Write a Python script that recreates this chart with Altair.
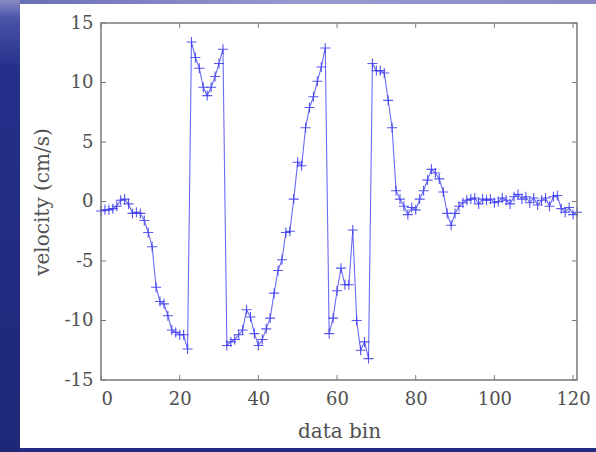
import altair as alt
import pandas as pd

bins = list(range(0, 122))
velocity = [
    -0.8, -0.7, -0.7, -0.6, -0.4, 0.1, 0.2, -0.2, -1.0, -0.9,
    -1.0, -1.6, -2.6, -3.8, -7.2, -8.4, -8.6, -9.6, -10.8, -11.0,
    -11.2, -11.2, -12.4, 13.4, 12.1, 11.2, 9.6, 8.9, 9.6, 10.5,
    11.6, 12.8, -12.1, -11.8, -11.6, -11.2, -10.8, -9.1, -9.7, -11.1,
    -12.1, -11.6, -10.7, -9.8, -7.7, -5.8, -4.9, -2.6, -2.5, 0.2,
    3.3, 3.0, 6.2, 7.9, 8.8, 10.1, 11.3, 12.9, -11.1, -9.8,
    -7.5, -5.6, -7.0, -7.0, -2.4, -10.0, -12.5, -11.8, -13.2, 11.6,
    11.0, 11.0, 10.8, 8.5, 6.2, 0.9, 0.2, -0.4, -1.1, -0.5,
    -0.7, 0.2, 0.9, 1.8, 2.7, 2.4, 1.9, 0.8, -1.0, -2.0,
    -1.0, -0.4, -0.1, 0.1, 0.2, 0.3, -0.2, 0.2, 0.1, 0.2,
    -0.1, 0.0, 0.3, 0.1, -0.2, 0.4, 0.6, 0.2, 0.4, -0.1,
    0.3, -0.3, 0.1, 0.3, -0.4, 0.4, 0.5, -0.6, -0.9, -0.5,
    -1.1, -0.9,
]
x_ticks = [0, 20, 40, 60, 80, 100, 120]
y_ticks = [-15, -10, -5, 0, 5, 10, 15]

W, H = 476, 357
FONT = "DejaVu Serif"
BLUE = "#3a3af0"

df = pd.DataFrame({"bin": bins, "v": velocity})
xt = pd.DataFrame({"t": x_ticks})
yt = pd.DataFrame({"t": y_ticks})
one = pd.DataFrame({"k": [0]})

xs = alt.Scale(domain=[0, 121], nice=False, zero=False)
ys = alt.Scale(domain=[-15, 15], nice=False, zero=False)

left_grad = alt.Gradient(
    gradient="linear",
    stops=[
        alt.GradientStop(color="#8a8ac6", offset=0),
        alt.GradientStop(color="#4a55a8", offset=0.04),
        alt.GradientStop(color="#24308a", offset=0.15),
        alt.GradientStop(color="#1e2878", offset=1),
    ],
    x1=0, x2=0, y1=0, y2=1,
)
top_grad = alt.Gradient(
    gradient="linear",
    stops=[
        alt.GradientStop(color="#6a70b8", offset=0),
        alt.GradientStop(color="#9a9ad0", offset=0.5),
        alt.GradientStop(color="#8a88c4", offset=1),
    ],
    x1=0, x2=1, y1=0, y2=0,
)

strip_left = alt.Chart(one).mark_rect(fill=left_grad).encode(
    x=alt.value(-101), x2=alt.value(-81), y=alt.value(-23), y2=alt.value(429))
strip_top = alt.Chart(one).mark_rect(fill=top_grad).encode(
    x=alt.value(-81), x2=alt.value(495), y=alt.value(-23), y2=alt.value(-19))
strip_bot = alt.Chart(one).mark_rect(fill="#222c84").encode(
    x=alt.value(-81), x2=alt.value(495), y=alt.value(425), y2=alt.value(429))
frame = alt.Chart(one).mark_rect(filled=False, stroke="#7a7a7a", strokeWidth=1.5).encode(
    x=alt.value(0), x2=alt.value(W), y=alt.value(0), y2=alt.value(H))

label_expr = "'' + datum.value"

line = alt.Chart(df).mark_line(color=BLUE, strokeWidth=1.1, opacity=0.75).encode(
    x=alt.X("bin:Q", scale=xs,
            axis=alt.Axis(values=x_ticks, title="data bin", ticks=False, domain=False,
                          grid=False, labelPadding=10, titlePadding=13,
                          labelExpr=label_expr)),
    y=alt.Y("v:Q", scale=ys,
            axis=alt.Axis(values=y_ticks, title="velocity (cm/s)", ticks=False, domain=False,
                          grid=False, labelPadding=8, titlePadding=12,
                          labelExpr=label_expr)),
)
pts = alt.Chart(df).mark_point(
    shape="M -1 0 L 1 0 M 0 -1 L 0 1", filled=False, color=BLUE, size=100, strokeWidth=1.1, opacity=0.85
).encode(x=alt.X("bin:Q", scale=xs), y=alt.Y("v:Q", scale=ys))

tick_col = "#7a7a7a"
xt_bot = alt.Chart(xt).mark_rule(color=tick_col).encode(
    x=alt.X("t:Q", scale=xs), y=alt.value(H), y2=alt.value(H - 5))
xt_top = alt.Chart(xt).mark_rule(color=tick_col).encode(
    x=alt.X("t:Q", scale=xs), y=alt.value(0), y2=alt.value(5))
yt_left = alt.Chart(yt).mark_rule(color=tick_col).encode(
    y=alt.Y("t:Q", scale=ys), x=alt.value(0), x2=alt.value(5))
yt_right = alt.Chart(yt).mark_rule(color=tick_col).encode(
    y=alt.Y("t:Q", scale=ys), x=alt.value(W - 5), x2=alt.value(W))

chart = alt.layer(
    line, pts, strip_left, strip_top, strip_bot, frame, xt_bot, xt_top, yt_left, yt_right
).properties(
    width=W, height=H,
    autosize=alt.AutoSizeParams(type="none"),
    padding={"left": 101, "top": 23, "right": 19, "bottom": 72},
    background="white",
).configure_view(stroke=None).configure_axis(
    labelFont=FONT, titleFont=FONT, labelFontSize=18, titleFontSize=20,
    labelColor="#505050", titleColor="#505050", titleFontWeight="normal",
)

chart.save("out.html", embed_options={"renderer": "svg", "actions": False})
